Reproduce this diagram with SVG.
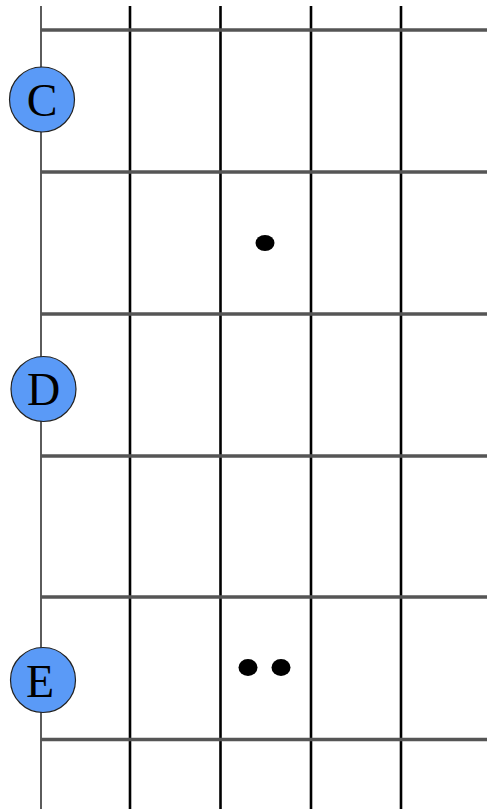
<svg xmlns="http://www.w3.org/2000/svg" width="487" height="809" viewBox="0 0 487 809">
  <style>
    .string { stroke: #000; stroke-width: 2.6; }
    .nut { stroke: #333; stroke-width: 1.6; }
    .fret { stroke: #555; stroke-width: 3.6; }
    .note circle { fill: #5a9af7; stroke: #222; stroke-width: 1.2; }
    .note text { font-family: "Liberation Serif", "Times New Roman", serif; font-size: 46px; fill: #000; text-anchor: middle; }
    .dot { fill: #000; }
  </style>
  <rect width="487" height="809" fill="#fff"/>
  <g id="grid">
    <line class="nut" x1="41" y1="6" x2="41" y2="809"/>
    <line class="string" x1="130" y1="6" x2="130" y2="809"/>
    <line class="string" x1="220.5" y1="6" x2="220.5" y2="809"/>
    <line class="string" x1="311" y1="6" x2="311" y2="809"/>
    <line class="string" x1="401" y1="6" x2="401" y2="809"/>
    <line class="fret" x1="41" y1="30" x2="487" y2="30"/>
    <line class="fret" x1="41" y1="172" x2="487" y2="172"/>
    <line class="fret" x1="41" y1="314" x2="487" y2="314"/>
    <line class="fret" x1="41" y1="456" x2="487" y2="456"/>
    <line class="fret" x1="41" y1="597" x2="487" y2="597"/>
    <line class="fret" x1="41" y1="739.5" x2="487" y2="739.5"/>
  </g>
  <g id="markers">
    <ellipse class="dot" cx="265" cy="243" rx="9.5" ry="8"/>
    <ellipse class="dot" cx="248" cy="667.5" rx="9.5" ry="8.5"/>
    <ellipse class="dot" cx="281" cy="667.5" rx="9.5" ry="8.5"/>
  </g>
  <g id="note-C" class="note">
    <circle cx="42" cy="99.5" r="32.5"/>
    <text x="42" y="116">C</text>
  </g>
  <g id="note-D" class="note">
    <circle cx="43.5" cy="389" r="32.5"/>
    <text x="43.5" y="405">D</text>
  </g>
  <g id="note-E" class="note">
    <circle cx="43" cy="680" r="32.5"/>
    <text x="40" y="697">E</text>
  </g>
</svg>
